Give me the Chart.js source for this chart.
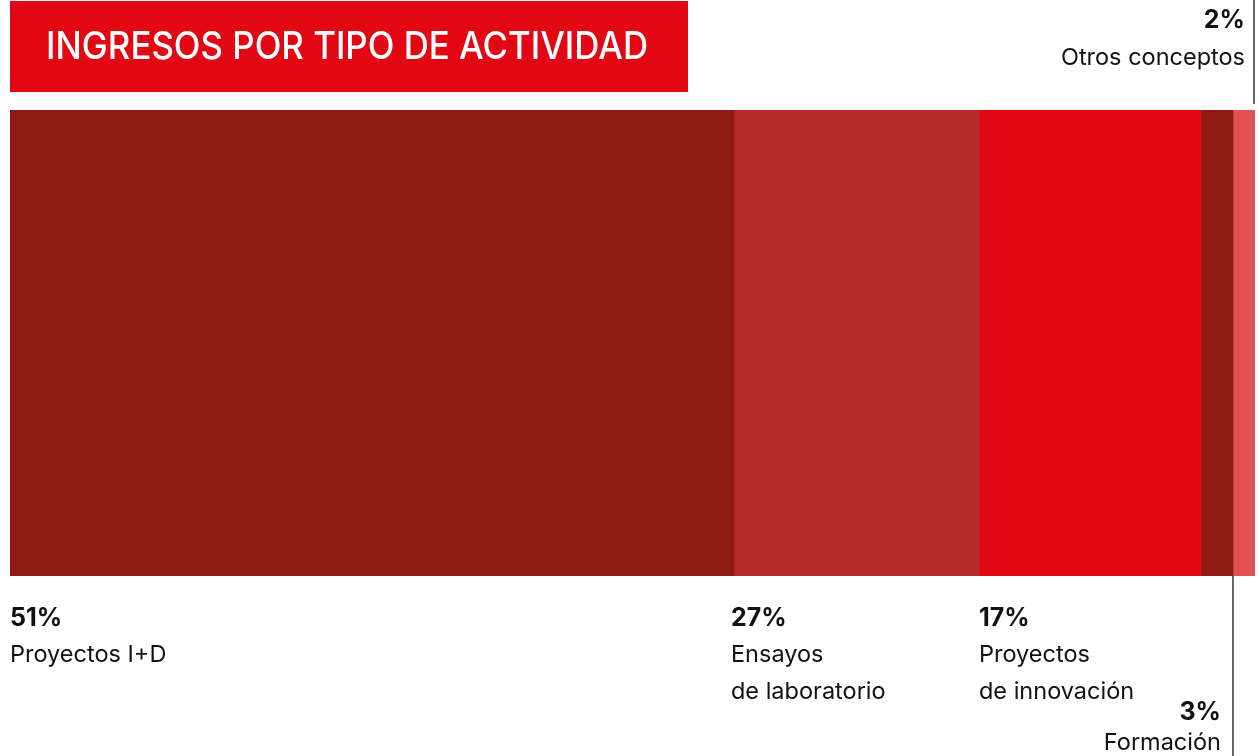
<!DOCTYPE html>
<html>
<head>
<meta charset="utf-8">
<script src="https://cdn.jsdelivr.net/npm/chart.js@4.4.0/dist/chart.umd.min.js"></script>
<style>
    html, body { margin: 0; padding: 0; background: #fff; }
    #wrap { width: 1259px; height: 756px; }
</style>
</head>
<body>
<div id="wrap"><canvas id="barChart" width="1259" height="756"></canvas></div>
<script>
// shares as drawn in the bar (the picture is not to scale with the labels)
const categories = ["Proyectos I+D", "Ensayos de laboratorio", "Proyectos de innovación", "Formación", "Otros conceptos"];
const barShares = [58.15, 19.68, 17.83, 2.57, 1.77];
const percentLabels = ["51%", "27%", "17%", "3%", "2%"];
const nameLines = [
    ["Proyectos I+D"],
    ["Ensayos", "de laboratorio"],
    ["Proyectos", "de innovación"],
    ["Formación"],
    ["Otros conceptos"]
];
const chartTitle = "INGRESOS POR TIPO DE ACTIVIDAD";

const colors = ["#8e1915", "#b52b2c", "#e30613", "#8e1915", "#e05252"];
const placement = ["below", "below", "below", "belowEnd", "aboveEnd"];

const FONT = "Inter, 'Liberation Sans', sans-serif";
const pctFont = "700 25px " + FONT;
const nameFont = "400 23.5px " + FONT;

const labelPlugin = {
    id: "labelPlugin",
    afterDraw(chart) {
        const ctx = chart.ctx;
        const xs = chart.scales.x;
        const area = chart.chartArea;

        // title box
        ctx.save();
        ctx.fillStyle = "#e30613";
        ctx.fillRect(10, 1, 678, 91);
        ctx.fillStyle = "#fff";
        ctx.font = "500 38px " + FONT;
        ctx.textBaseline = "alphabetic";
        ctx.textAlign = "left";
        ctx.fillText(chartTitle, 46, 59, 602);

        let cum = 0;
        barShares.forEach((v, i) => {
            const x0 = xs.getPixelForValue(cum);
            const x1 = xs.getPixelForValue(cum + v);
            cum += v;
            ctx.fillStyle = "#111";
            if (placement[i] === "below") {
                const lx = i === 1 ? x0 - 3 : x0;
                ctx.textAlign = "left";
                ctx.font = pctFont;
                ctx.fillText(percentLabels[i], lx, 626);
                ctx.font = nameFont;
                nameLines[i].forEach((t, k) => ctx.fillText(t, lx, 662 + k * 37));
            } else if (placement[i] === "belowEnd") {
                ctx.textAlign = "right";
                ctx.font = pctFont;
                ctx.fillText(percentLabels[i], x1 - 12, 720);
                ctx.font = nameFont;
                nameLines[i].forEach((t, k) => ctx.fillText(t, x1 - 12, 750 + k * 37));
                ctx.strokeStyle = "#333";
                ctx.lineWidth = 1.5;
                ctx.beginPath();
                ctx.moveTo(x1, area.bottom);
                ctx.lineTo(x1, chart.height);
                ctx.stroke();
            } else {
                ctx.textAlign = "right";
                ctx.font = pctFont;
                ctx.fillText(percentLabels[i], x1 - 10, 28);
                ctx.font = nameFont;
                nameLines[i].forEach((t, k) => ctx.fillText(t, x1 - 10, 65 + k * 37));
                ctx.strokeStyle = "#333";
                ctx.lineWidth = 1.5;
                ctx.beginPath();
                ctx.moveTo(x1 - 1, 0);
                ctx.lineTo(x1 - 1, area.top - 6);
                ctx.stroke();
            }
        });
        ctx.restore();
    }
};

const ctx = document.getElementById("barChart").getContext("2d");
new Chart(ctx, {
    type: "bar",
    data: {
        labels: [""],
        datasets: categories.map((c, i) => ({
            label: c,
            data: [barShares[i]],
            backgroundColor: colors[i],
            borderWidth: 0,
            barPercentage: 1,
            categoryPercentage: 1
        }))
    },
    options: {
        indexAxis: "y",
        responsive: false,
        animation: false,
        layout: { padding: { left: 10, right: 4, top: 110, bottom: 180 } },
        scales: {
            x: { stacked: true, min: 0, max: 100, display: false },
            y: { stacked: true, display: false }
        },
        plugins: {
            legend: { display: false },
            tooltip: { enabled: false }
        }
    },
    plugins: [labelPlugin]
});
</script>
</body>
</html>
